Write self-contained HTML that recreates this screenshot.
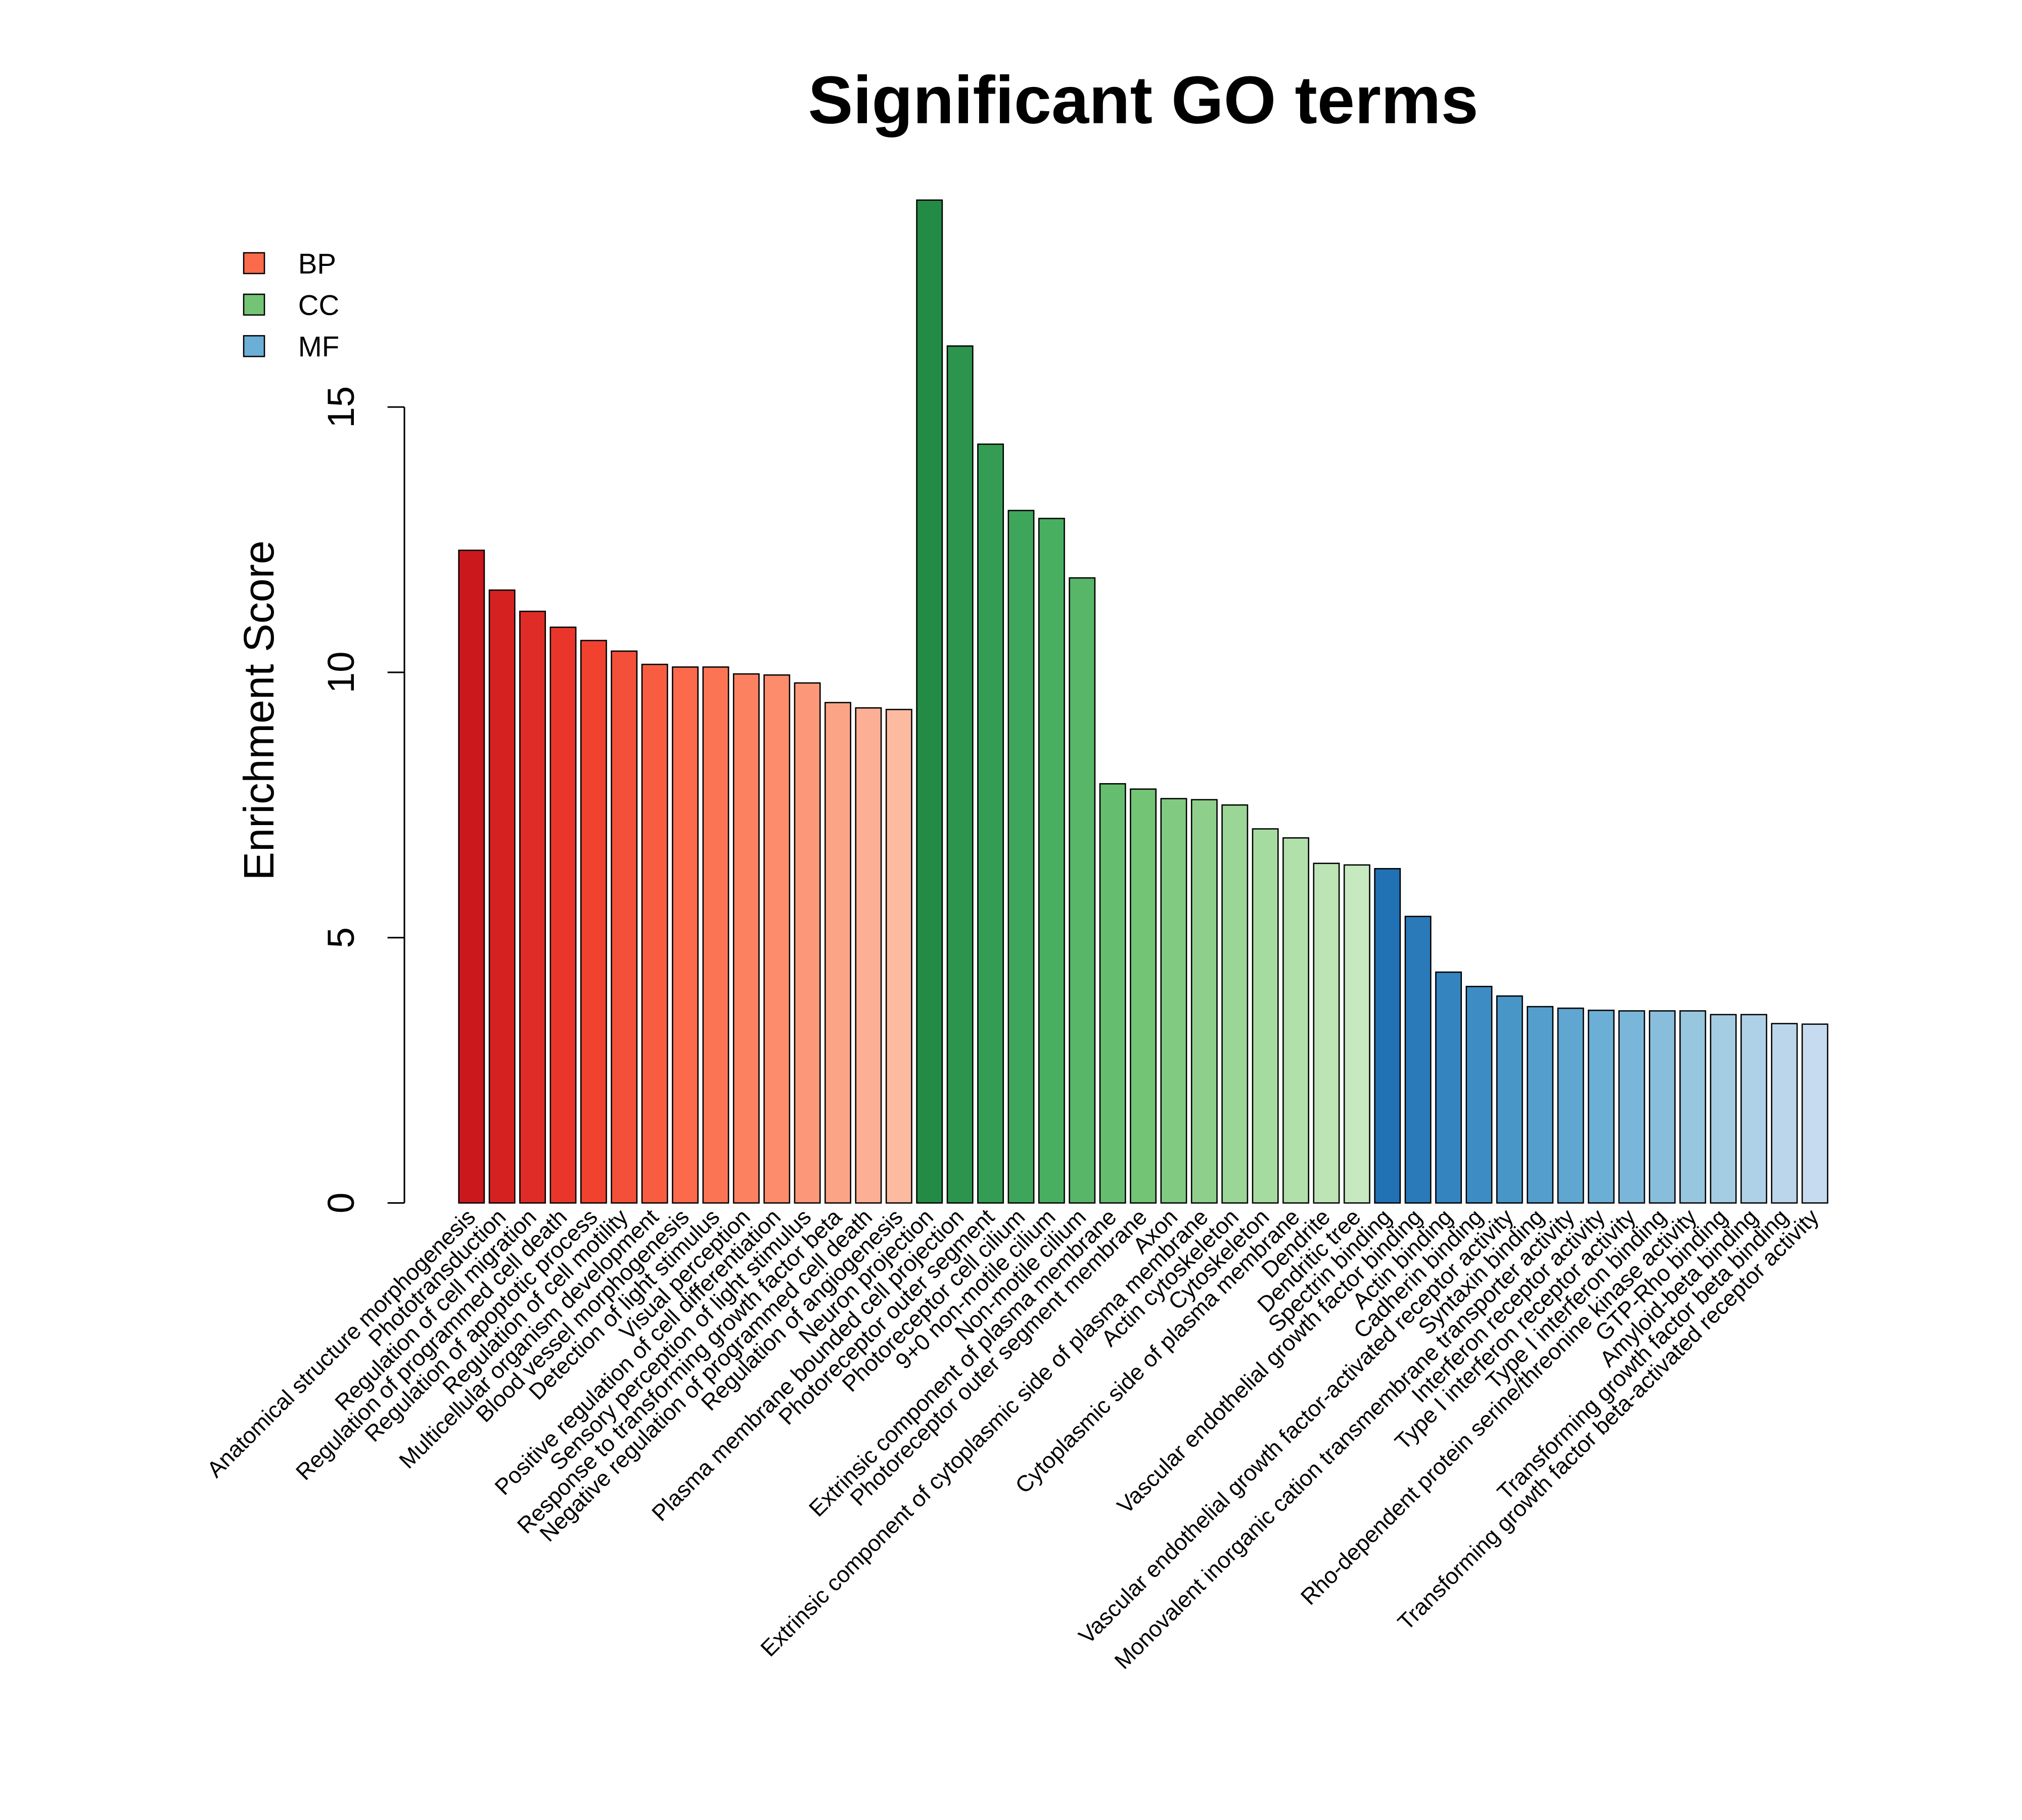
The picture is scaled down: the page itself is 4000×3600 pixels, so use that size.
<!DOCTYPE html>
<html><head><meta charset="utf-8"><style>
html,body{margin:0;padding:0;background:#fff}
svg{display:block}
text{font-family:"Liberation Sans",sans-serif}
</style></head><body>
<svg id="chart" width="4000" height="3600" viewBox="0 0 1560 1404" xmlns="http://www.w3.org/2000/svg">
<rect width="1560" height="1404" fill="#fff"/>
<g transform="translate(-4,-4)">
<text x="886" y="99" font-size="52" font-weight="bold" text-anchor="middle">Significant GO terms</text>
<text transform="translate(215,552) rotate(-90)" font-size="33" text-anchor="middle">Enrichment Score</text>
<g id="axis"></g>
<g id="bars"></g>
<g id="labels"></g>
<g id="legend"></g>
</g>
</svg>
<script>
const categories = ["Anatomical structure morphogenesis","Phototransduction","Regulation of cell migration","Regulation of programmed cell death","Regulation of apoptotic process","Regulation of cell motility","Multicellular organism development","Blood vessel morphogenesis","Detection of light stimulus","Visual perception","Positive regulation of cell differentiation","Sensory perception of light stimulus","Response to transforming growth factor beta","Negative regulation of programmed cell death","Regulation of angiogenesis",
"Neuron projection","Plasma membrane bounded cell projection","Photoreceptor outer segment","Photoreceptor cell cilium","9+0 non-motile cilium","Non-motile cilium","Extrinsic component of plasma membrane","Photoreceptor outer segment membrane","Axon","Extrinsic component of cytoplasmic side of plasma membrane","Actin cytoskeleton","Cytoskeleton","Cytoplasmic side of plasma membrane","Dendrite","Dendritic tree",
"Spectrin binding","Vascular endothelial growth factor binding","Actin binding","Cadherin binding","Vascular endothelial growth factor-activated receptor activity","Syntaxin binding","Monovalent inorganic cation transmembrane transporter activity","Interferon receptor activity","Type I interferon receptor activity","Type I interferon binding","Rho-dependent protein serine/threonine kinase activity","GTP-Rho binding","Amyloid-beta binding","Transforming growth factor beta binding","Transforming growth factor beta-activated receptor activity"];
const groups = ["BP","BP","BP","BP","BP","BP","BP","BP","BP","BP","BP","BP","BP","BP","BP","CC","CC","CC","CC","CC","CC","CC","CC","CC","CC","CC","CC","CC","CC","CC","MF","MF","MF","MF","MF","MF","MF","MF","MF","MF","MF","MF","MF","MF","MF"];
const values = [12.3,11.55,11.15,10.85,10.6,10.4,10.15,10.1,10.1,9.97,9.95,9.8,9.43,9.33,9.3,
18.9,16.15,14.3,13.05,12.9,11.78,7.9,7.8,7.62,7.6,7.5,7.05,6.88,6.4,6.37,
6.3,5.4,4.35,4.08,3.9,3.7,3.67,3.63,3.62,3.62,3.62,3.55,3.55,3.38,3.37];
const yTicks = [0,5,10,15];
const legendLabels = ["BP","CC","MF"];

const NS="http://www.w3.org/2000/svg";
const y0=932, pxPerUnit=(932-318)/15, x0=356, pitch=(1416-356)/45, bw=pitch/1.2;
const yScale=v=>y0-v*pxPerUnit;
const xScale=i=>x0+i*pitch+(pitch-bw)/2;
function mk(t,a,p){const e=document.createElementNS(NS,t);for(const k in a)e.setAttribute(k,a[k]);p.appendChild(e);return e;}
const hex=h=>[1,3,5].map(k=>parseInt(h.substr(k,2),16));
const ramps={BP:["#CB181D","#EF3B2C","#FB6A4A","#FC9272","#FCBBA1"].map(hex),
CC:["#238B45","#41AB5D","#74C476","#A1D99B","#C7E9C0"].map(hex),
MF:["#2171B5","#4292C6","#6BAED6","#9ECAE1","#C6DBEF"].map(hex)};
const legendCols={BP:"#FB6A4A",CC:"#74C476",MF:"#6BAED6"};
function rampCol(stops,f){const p=f*(stops.length-1);const i=Math.min(stops.length-2,Math.floor(p));const t=p-i;return stops[i].map((x,k)=>Math.round(x+(stops[i+1][k]-x)*t));}

const ax=document.getElementById('axis');
const axl=mk('line',{x1:316,x2:316,y1:yScale(0),y2:yScale(15),stroke:'#000','stroke-width':1.2},ax);


yTicks.forEach(t=>{
  const y=yScale(t);
  const tk=mk('line',{x1:303,x2:316,y1:y,y2:y,stroke:'#000','stroke-width':1.2},ax);
  
  
  const tl=mk('text',{transform:`translate(277,${y}) rotate(-90)`,'font-size':29,'text-anchor':'middle'},ax);
  tl.textContent=t;
  
  
});

const bars=document.getElementById('bars'), labs=document.getElementById('labels');
const counts={},idx={};
groups.forEach(g=>counts[g]=(counts[g]||0)+1);
values.forEach((v,i)=>{
  const g=groups[i]; idx[g]=(idx[g]||0); const f=idx[g]/Math.max(1,counts[g]-1); idx[g]++;
  const c=rampCol(ramps[g],f);
  const r=mk('rect',{x:xScale(i),y:yScale(v),width:bw,height:yScale(0)-yScale(v),fill:`rgb(${c})`,stroke:'#000','stroke-width':1},bars);
  
  
  const cx=xScale(i)+bw/2;
  const t=mk('text',{transform:`translate(${cx+4},944) rotate(-45)`,'font-size':17.5,'text-anchor':'end'},labs);
  t.textContent=categories[i];
  
  
});

const lg=document.getElementById('legend');
legendLabels.forEach((l,i)=>{
  const y=207+i*32;
  const r=mk('rect',{x:192,y:y-8,width:16,height:16,fill:legendCols[l],stroke:'#000','stroke-width':1},lg);
  
  
  const t=mk('text',{x:234,y:y+8,'font-size':22},lg);
  t.textContent=l;
  
  
});
</script>
</body></html>
